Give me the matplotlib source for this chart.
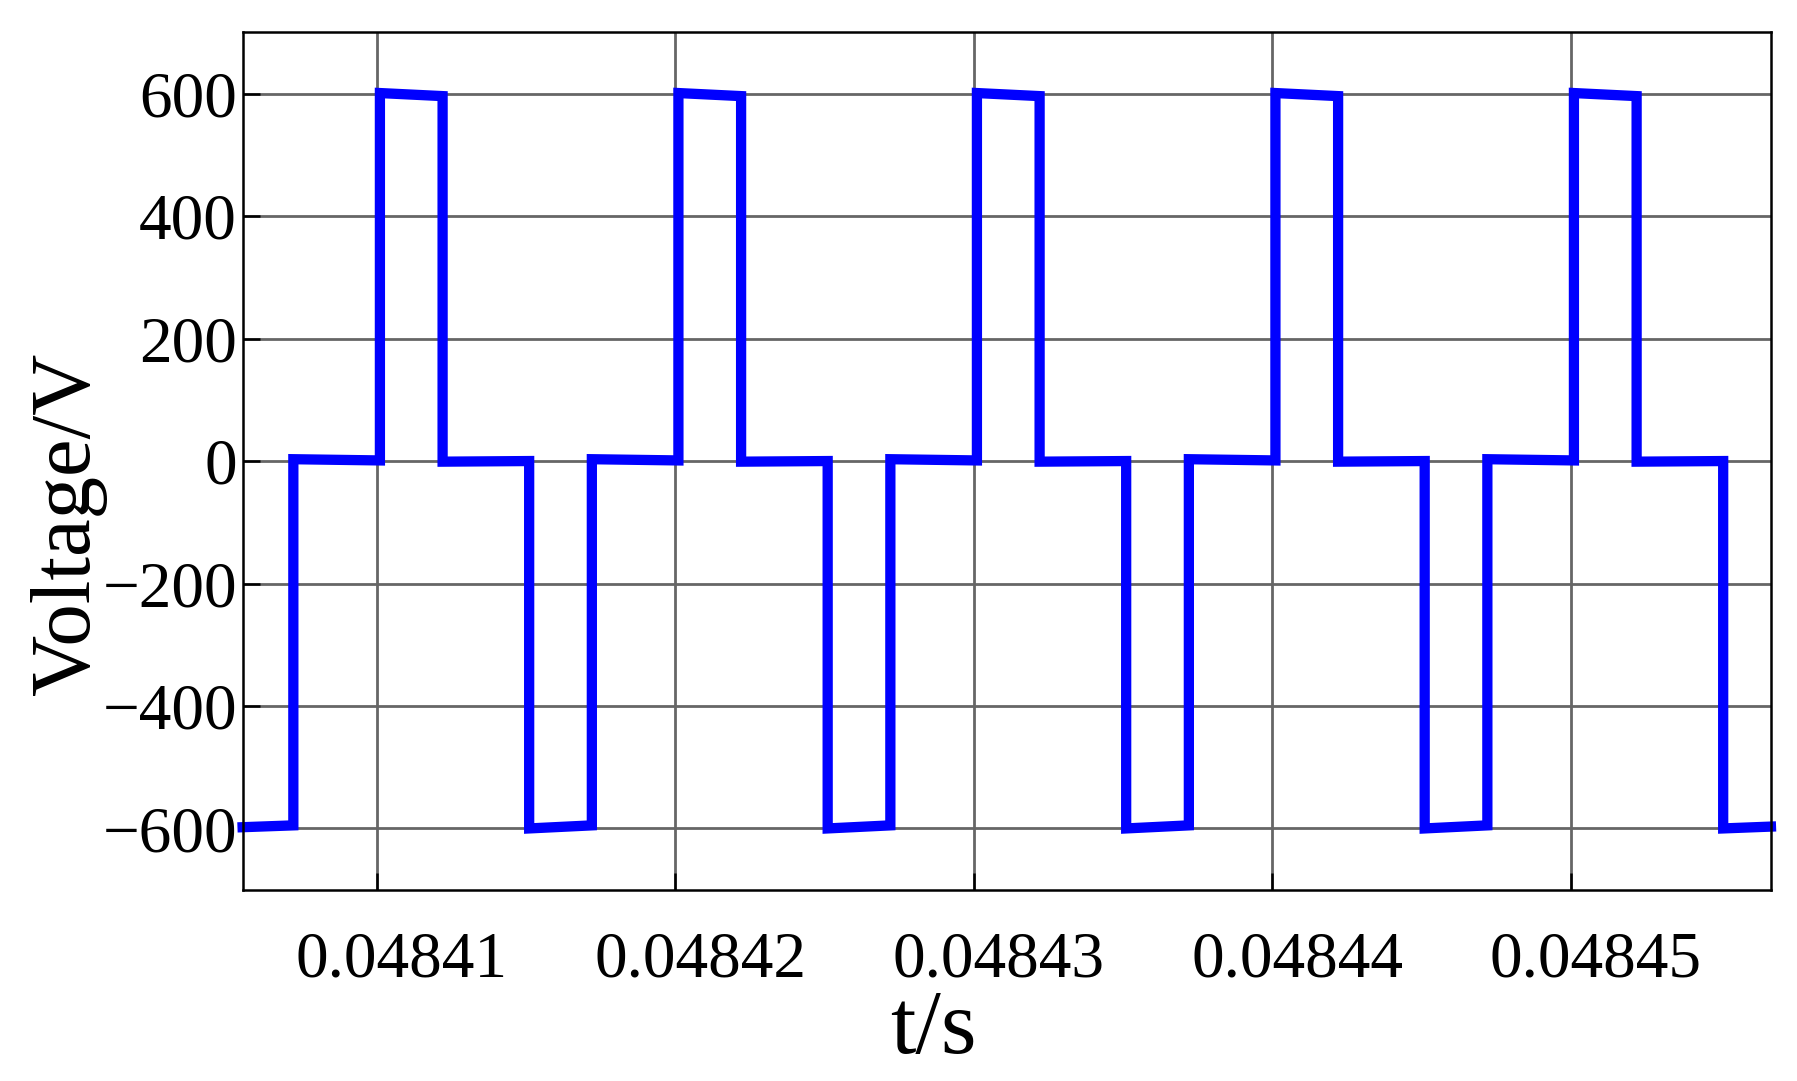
import numpy as np
import matplotlib
matplotlib.use("Agg")
import matplotlib.pyplot as plt
import matplotlib.transforms as mtransforms
from matplotlib.ticker import FixedLocator, FuncFormatter

# Switching instants (s) of the stepped voltage waveform
switch_t = [0.0484055, 0.0484072, 0.0484101, 0.0484122, 0.0484151, 0.0484172,
            0.0484201, 0.0484222, 0.0484251, 0.0484272,
            0.0484301, 0.0484322, 0.0484351, 0.0484372,
            0.0484401, 0.0484422, 0.0484451, 0.0484472,
            0.0484501, 0.0484522, 0.0484551, 0.0484567]
# Voltage at the start and end of each segment (V)
seg_start_v = [-598, 3, 601, -1, -600, 3, 601, -1, -600, 3, 601, -1, -600, 3,
               601, -1, -600, 3, 601, -1, -600]
seg_end_v = [-595, 1, 596, 0, -595, 1, 596, 0, -595, 1, 596, 0, -595, 1,
             596, 0, -595, 1, 596, 0, -597]

x_ticks = [0.04841, 0.04842, 0.04843, 0.04844, 0.04845]
y_ticks = [-600, -400, -200, 0, 200, 400, 600]

t_pts, v_pts = [], []
for i in range(len(seg_start_v)):
    t_pts += [switch_t[i], switch_t[i + 1]]
    v_pts += [seg_start_v[i], seg_end_v[i]]

plt.rcParams['font.family'] = ['Liberation Serif', 'DejaVu Serif']

fig = plt.figure(figsize=(17.97, 10.81), dpi=100)
ax = fig.add_axes([0.135, 0.177, 0.8505, 0.793])

ax.plot(t_pts, v_pts, color='#0000ff', lw=7.4, solid_joinstyle='miter', zorder=3, clip_on=False)

ax.set_xlim(switch_t[0], switch_t[-1])
ax.set_ylim(-700, 700)
ax.xaxis.set_major_locator(FixedLocator(x_ticks))
ax.yaxis.set_major_locator(FixedLocator(y_ticks))
ax.xaxis.set_major_formatter(FuncFormatter(lambda v, p: f"{v:.5f}"))
ax.yaxis.set_major_formatter(FuncFormatter(lambda v, p: f"{int(round(v))}".replace('-', '\u2212')))

ax.grid(True, color='#666666', lw=2.0)
ax.set_axisbelow(True)
for s in ax.spines.values():
    s.set_linewidth(1.8)
    s.set_color('black')
    s.set_zorder(4)

ax.tick_params(axis='both', direction='in', length=12, width=1.8, labelsize=47)
ax.tick_params(axis='x', pad=30)
ax.tick_params(axis='y', pad=4)

offset = mtransforms.ScaledTranslation(0.25, 0, fig.dpi_scale_trans)
for lab in ax.get_xticklabels():
    lab.set_transform(lab.get_transform() + offset)

ax.set_xlabel('t/s', fontsize=66)
ax.xaxis.set_label_coords(0.452, -0.116)
ax.set_ylabel('Voltage/V', fontsize=61)
ax.yaxis.set_label_coords(-0.089, 0.427)

fig.savefig('out.png', dpi=100)
